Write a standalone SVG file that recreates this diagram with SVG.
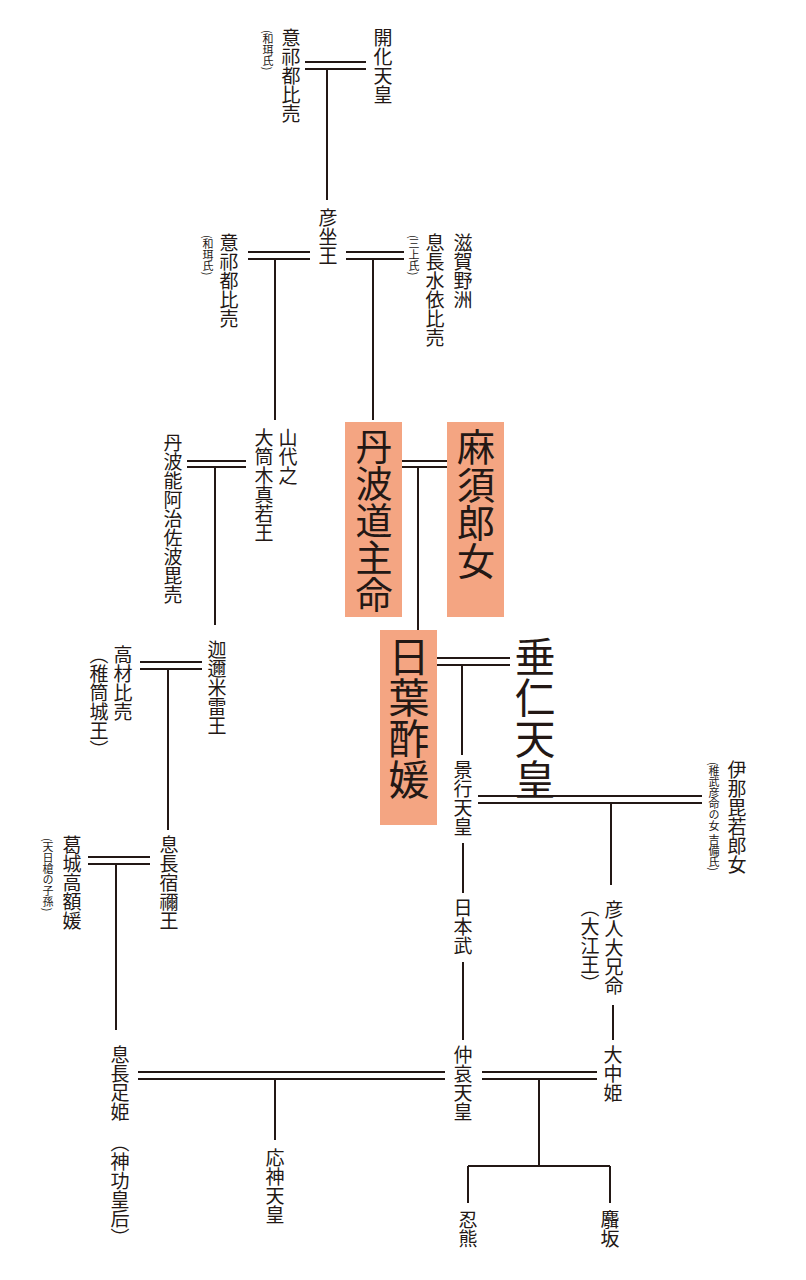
<svg xmlns="http://www.w3.org/2000/svg" width="806" height="1280" viewBox="0 0 806 1280">
<style>
text{font-family:"Noto Sans CJK JP","Noto Sans CJK SC",sans-serif;fill:#231815;writing-mode:vertical-rl;}
.n{font-size:19px}
.s{font-size:11px}
.b{font-size:38px}
.l{stroke:#231815;stroke-width:2;fill:none}
.box{fill:#f4a582}
</style>
<rect width="806" height="1280" fill="#fff"/>
<g id="connectors" class="l">
<path d="M305 62H366M305 69H366M327 69V200"/>
<path d="M248 252H310M248 259H310M275 259V420"/>
<path d="M346 252H404M346 259H404M373 259V420"/>
<path d="M187 461H246M187 467H246M215 467V625"/>
<path d="M390 461H452M390 467H452M418 467V630"/>
<path d="M437 658H510M437 665H510M462 665V755"/>
<path d="M478 796H702M478 803H702M611 803V885"/>
<path d="M463 843V893M463 962V1040"/>
<path d="M613 1005V1040"/>
<path d="M140 662H202M140 669H202M168 669V830"/>
<path d="M88 857H150M88 864H150M116 864V1030"/>
<path d="M138 1072H445M138 1079H445M275 1079V1140"/>
<path d="M482 1072H597M482 1079H597M539 1079V1166M468 1166H610M468 1166V1203M610 1166V1203"/>
</g>
<g id="n1"><text class="n" x="383" y="28">開化天皇</text></g>
<g id="n2"><text class="n" x="291" y="28">意祁都比売</text><text class="s" x="268" y="30">(和珥氏)</text></g>
<g id="n3"><text class="n" x="328" y="208">彦坐王</text></g>
<g id="n4"><text class="n" x="229" y="233">意祁都比売</text><text class="s" x="208" y="235">(和珥氏)</text></g>
<g id="n5"><text class="n" x="463" y="233">滋賀野洲</text><text class="n" x="435" y="233">息長水依比売</text><text class="s" x="414" y="235">(三上氏)</text></g>
<g id="n6"><text class="n" x="288" y="428">山代之</text><text class="n" x="264" y="428">大筒木真若王</text></g>
<g id="n7"><text class="n" x="173" y="433">丹波能阿治佐波毘売</text></g>
<g id="n8"><rect class="box" x="345" y="422" width="57" height="195"/><text class="b" x="374" y="428" style="font-size:37px">丹波道主命</text></g>
<g id="n9"><rect class="box" x="447" y="422" width="57" height="195"/><text class="b" x="476" y="428">麻須郎女</text></g>
<g id="n10"><rect class="box" x="380" y="630" width="57" height="195"/><text class="b" x="409" y="636" style="font-size:41px">日葉酢媛</text></g>
<g id="n11"><text class="b" x="535" y="636" style="font-size:41px">垂仁天皇</text></g>
<g id="n12"><text class="n" x="463" y="760">景行天皇</text></g>
<g id="n13"><text class="n" x="737" y="760">伊那毘若郎女</text><text class="s" x="714" y="762">(稚武彦命の女 吉備氏)</text></g>
<g id="n14"><text class="n" x="463" y="898">日本武</text></g>
<g id="n15"><text class="n" x="614" y="900">彦人大兄命</text><text class="n" x="590" y="898">（大江王）</text></g>
<g id="n16"><text class="n" x="463" y="1045">仲哀天皇</text></g>
<g id="n17"><text class="n" x="613" y="1045">大中姫</text></g>
<g id="n18"><text class="n" x="468" y="1210">忍熊</text></g>
<g id="n19"><text class="n" x="610" y="1210">麛坂</text></g>
<g id="n20"><text class="n" x="120" y="1045">息長足姫</text><text class="n" x="120" y="1133">（神功皇后）</text></g>
<g id="n21"><text class="n" x="275" y="1148">応神天皇</text></g>
<g id="n22"><text class="n" x="217" y="640">迦邇米雷王</text></g>
<g id="n23"><text class="n" x="123" y="645">高材比売</text><text class="n" x="99" y="645">（稚筒城王）</text></g>
<g id="n24"><text class="n" x="169" y="835">息長宿禰王</text></g>
<g id="n25"><text class="n" x="72" y="835">葛城高額媛</text><text class="s" x="48" y="838">(天日槍の子孫)</text></g>
</svg>
